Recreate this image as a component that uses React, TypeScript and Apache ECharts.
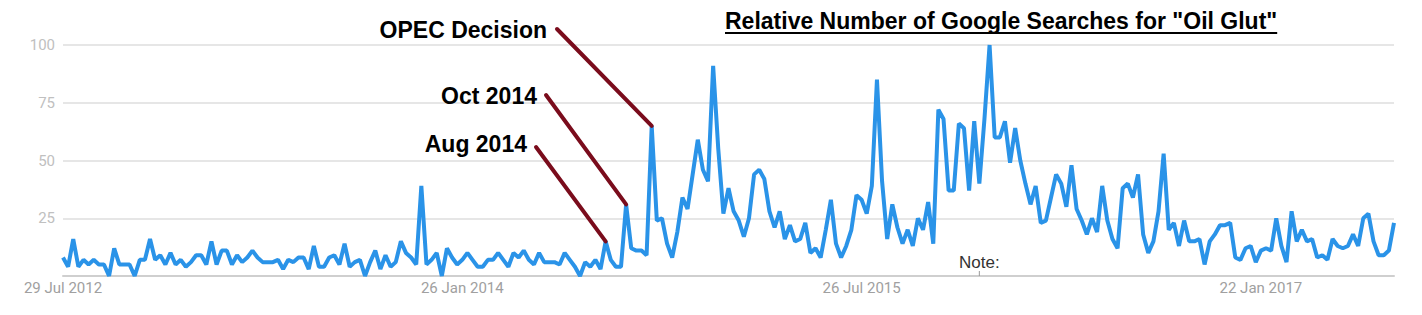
import React, { useEffect, useRef } from "react";
import * as echarts from "echarts";

const START_DATE = "2012-07-29";
const MONTHS = ["Jan", "Feb", "Mar", "Apr", "May", "Jun", "Jul", "Aug", "Sep", "Oct", "Nov", "Dec"];

// Weekly relative search interest for "Oil Glut"
const SEARCH_INDEX = [
  8, 4, 16, 4, 7, 5, 7, 5, 5, 0,
  12, 5, 5, 5, 0, 7, 7, 16, 7, 9,
  5, 10, 5, 7, 4, 6, 9, 9, 5, 15,
  5, 11, 11, 5, 9, 6, 8, 11, 8, 6,
  6, 6, 7, 3, 7, 6, 8, 8, 3, 13,
  4, 4, 8, 9, 5, 14, 4, 6, 7, 0,
  6, 11, 3, 9, 4, 6, 15, 10, 8, 5,
  39, 5, 7, 10, 0, 12, 8, 5, 7, 10,
  7, 4, 4, 7, 7, 10, 7, 4, 10, 8,
  11, 7, 5, 10, 6, 6, 6, 5, 10, 7,
  4, 0, 6, 4, 7, 3, 15, 7, 4, 4,
  31, 12, 11, 11, 9, 65, 24, 25, 14, 8,
  19, 34, 29, 44, 59, 46, 41, 91, 55, 27,
  38, 28, 24, 17, 25, 44, 46, 42, 28, 21,
  28, 16, 22, 15, 16, 23, 10, 12, 8, 20,
  33, 14, 8, 13, 20, 35, 33, 27, 39, 85,
  41, 16, 31, 21, 14, 20, 13, 25, 20, 32,
  14, 72, 68, 37, 37, 66, 64, 37, 67, 40,
  68, 100, 60, 60, 67, 49, 64, 50, 40, 31,
  39, 23, 24, 34, 44, 40, 30, 48, 29, 24,
  18, 25, 19, 39, 24, 16, 12, 38, 40, 34,
  44, 18, 10, 15, 28, 53, 20, 23, 13, 24,
  15, 15, 16, 5, 15, 18, 22, 22, 23, 8,
  7, 12, 13, 6, 11, 12, 11, 25, 13, 6,
  28, 15, 20, 15, 16, 8, 9, 7, 16, 13,
  12, 13, 18, 13, 25, 27, 15, 9, 9, 11,
  23,
];

const X_TICK_LABELS = ["29 Jul 2012", "26 Jan 2014", "26 Jul 2015", "22 Jan 2017"];
const Y_TICK_VALUES = [25, 50, 75, 100];

const TITLE = 'Relative Number of Google Searches for "Oil Glut"';
const NOTE_TEXT = "Note:";
const NOTE_WEEK = "3 Jan 2016";

const ANNOTATION_TEXTS = ["OPEC Decision", "Oct 2014", "Aug 2014"];
const ANNOTATION_WEEKS = ["12 Oct 2014", "7 Sep 2014", "10 Aug 2014"];

function weekLabels(n: number): string[] {
  const out: string[] = [];
  const start = new Date(START_DATE + "T00:00:00Z").getTime();
  for (let i = 0; i < n; i++) {
    const d = new Date(start + i * 7 * 86400000);
    out.push(`${d.getUTCDate()} ${MONTHS[d.getUTCMonth()]} ${d.getUTCFullYear()}`);
  }
  return out;
}

export default function App() {
  const ref = useRef<HTMLDivElement>(null);

  useEffect(() => {
    const el = ref.current!;
    const chart = echarts.init(el, null, { renderer: "svg" });
    const cats = weekLabels(SEARCH_INDEX.length);

    chart.setOption({
      animation: false,
      grid: { left: 63, right: 28, top: 45, bottom: 39 },
      xAxis: {
        type: "category",
        data: cats,
        boundaryGap: false,
        axisLine: { show: true, lineStyle: { color: "#cfcfcf", width: 2 } },
        axisTick: { show: false },
        splitLine: { show: false },
        axisLabel: {
          interval: (_i: number, v: string) => X_TICK_LABELS.includes(v),
          color: "#a0a0a0",
          fontSize: 15,
          fontFamily: "Roboto",
          margin: 4,
        },
      },
      yAxis: {
        type: "value",
        min: 0,
        max: 100,
        interval: 25,
        axisLine: { show: false },
        axisTick: { show: false },
        axisLabel: {
          formatter: (v: number) => (Y_TICK_VALUES.includes(v) ? String(v) : ""),
          color: "#c0c0c0",
          fontSize: 15,
          fontFamily: "Roboto",
          margin: 8,
        },
        splitLine: { lineStyle: { color: "#e6e6e6", width: 2 } },
      },
      series: [
        {
          type: "line",
          data: SEARCH_INDEX,
          symbol: "none",
          lineStyle: { color: "#2a93e8", width: 4 },
        },
      ],
    });

    // measure title for underline
    const canvas = document.createElement("canvas");
    const ctx = canvas.getContext("2d")!;
    ctx.font = "bold 23px 'Liberation Sans'";
    const titleW = ctx.measureText(TITLE).width;
    const titleX = 725;

    const starts = [
      [557, 29],
      [546, 95],
      [536, 147],
    ];
    const textRight = [547, 537, 527];
    const textY = [30, 96, 144];

    const graphics: any[] = [];
    ANNOTATION_WEEKS.forEach((wk, k) => {
      const idx = cats.indexOf(wk);
      const p = chart.convertToPixel({ xAxisIndex: 0, yAxisIndex: 0 }, [idx, SEARCH_INDEX[idx]]) as number[];
      graphics.push({
        type: "line",
        shape: { x1: starts[k][0], y1: starts[k][1], x2: p[0], y2: p[1] },
        style: { stroke: "#7a0c1c", lineWidth: 4, lineCap: "round" },
        z: 10,
      });
      graphics.push({
        type: "text",
        x: textRight[k],
        y: textY[k],
        style: {
          text: ANNOTATION_TEXTS[k],
          font: "bold 23px 'Liberation Sans'",
          fill: "#000",
          textAlign: "right",
          textVerticalAlign: "middle",
        },
        z: 10,
      });
    });

    graphics.push({
      type: "text",
      x: titleX,
      y: 21,
      style: {
        text: TITLE,
        font: "bold 23px 'Liberation Sans'",
        fill: "#000",
        textAlign: "left",
        textVerticalAlign: "middle",
      },
      z: 10,
    });
    graphics.push({
      type: "line",
      shape: { x1: titleX, y1: 33, x2: titleX + titleW, y2: 33 },
      style: { stroke: "#000", lineWidth: 2 },
      z: 10,
    });

    const noteIdx = cats.indexOf(NOTE_WEEK);
    const np = chart.convertToPixel({ xAxisIndex: 0, yAxisIndex: 0 }, [noteIdx, 0]) as number[];
    graphics.push({
      type: "text",
      x: np[0],
      y: 262,
      style: {
        text: NOTE_TEXT,
        font: "17px 'Liberation Sans'",
        fill: "#333",
        textAlign: "center",
        textVerticalAlign: "middle",
      },
      z: 10,
    });
    graphics.push({
      type: "line",
      shape: { x1: np[0], y1: 271, x2: np[0], y2: np[1] },
      style: { stroke: "#999", lineWidth: 1 },
      z: 10,
    });

    chart.setOption({ graphic: graphics });

    return () => chart.dispose();
  }, []);

  return (
    <div
      ref={ref}
      style={{ position: "absolute", left: 0, top: 0, width: 1422, height: 315, background: "#fff" }}
    />
  );
}
